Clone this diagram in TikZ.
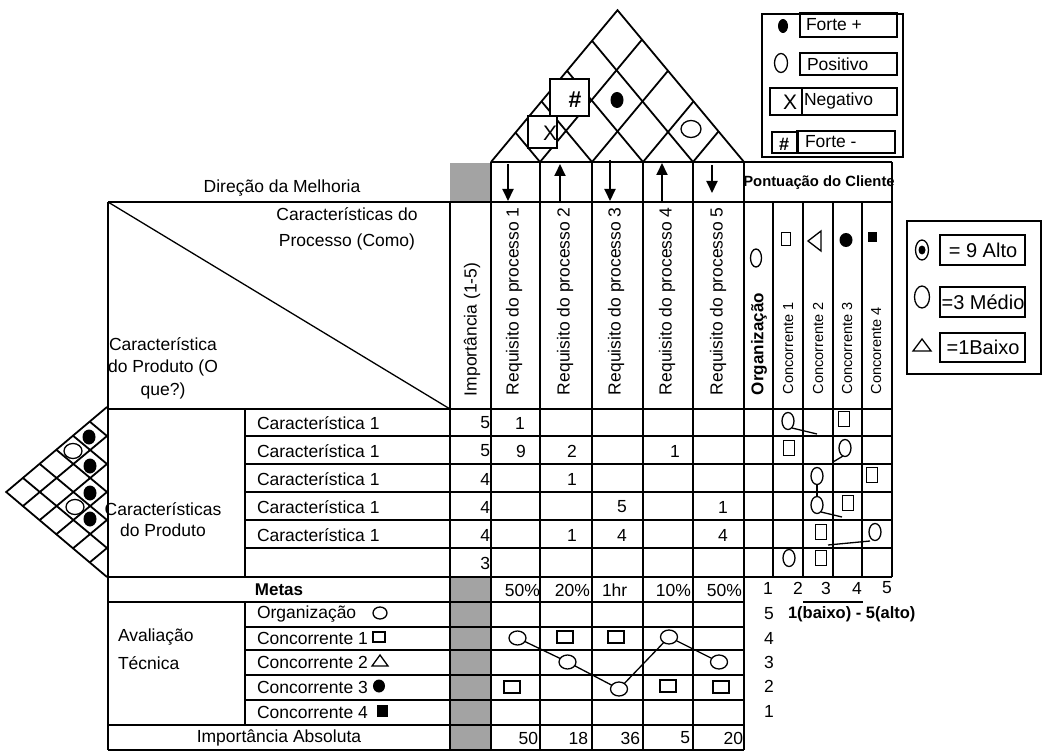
\documentclass[tikz,border=0pt]{standalone}
\usepackage{fontspec}
\setmainfont{Liberation Sans}
\usetikzlibrary{shapes.geometric,arrows.meta}
\newcommand{\fsz}[2]{\fontsize{#1}{#2}\selectfont}
\begin{document}
\begin{tikzpicture}[x=1pt,y=-1pt,
  every node/.style={inner sep=0pt,outer sep=0pt},
  lab/.style={font=\fsz{17.5}{22}},
  labbf/.style={font=\bfseries\fsz{17}{22}},
  sml/.style={font=\fsz{14.5}{17}},
  leg/.style={font=\fsz{20}{24}},
  rot/.style={rotate=90,anchor=west},
  rule/.style={line width=1.8pt},
  heavy/.style={line width=2.8pt},
  fine/.style={line width=1.3pt},
  shaded/.style={fill=black!36},
  ovl/.style={draw,ellipse,fine,fill=white,minimum width=12pt,minimum height=17pt},
  sqr/.style={draw,rectangle,fine,minimum width=11pt,minimum height=15pt},
  evo/.style={draw,ellipse,fine,fill=white,minimum width=17pt,minimum height=14pt},
  evs/.style={draw,rectangle,fine,minimum width=16pt,minimum height=12pt},
  dotf/.style={ellipse,fill=black},
  tip/.style={-{Triangle[width=11pt,length=12pt]},line width=1.9pt},
  legbox/.style={draw,fine,rectangle,fill=white}
]
% page
\path[fill=white] (0,0) rectangle (1044,754);

% ---------- shaded cells of the importance column ----------
\fill[shaded] (450,163) rectangle (490,201);
\fill[shaded] (451,578) rectangle (490,749);

% ---------- roof (correlation matrix) ----------
\draw[rule] (491,162) -- (617.5,10.2) -- (744,162);
\foreach \b in {540,592,643,693} {
  \draw[rule] (\b,162) -- ({(\b+744)/2},{162-0.6*(744-\b)});
  \draw[rule] (\b,162) -- ({(491+\b)/2},{162-0.6*(\b-491)});
}
\node[legbox,minimum width=29pt,minimum height=32pt] (rX) at (542.5,132) {};
\node[font=\fsz{21}{24}] (rXt) at (550,133) {X};
\node[legbox,minimum width=39pt,minimum height=37pt] (rH) at (569.5,97.5) {};
\node[font=\bfseries\fsz{23}{26}] (rHt) at (575,100) {\#};
\node[dotf,minimum width=13pt,minimum height=16pt] (rD) at (617,100) {};
\node[ovl,minimum width=20pt,minimum height=17pt] (rO) at (691,129) {};

% ---------- side correlation matrix ----------
\draw[rule] (107,407) -- (6.2,492) -- (107,577);
\foreach \r in {436,464,492,520,548} {
  \draw[rule] (107,\r) -- ({107-0.6*(\r-407)},{(407+\r)/2});
  \draw[rule] (107,\r) -- ({107-0.6*(577-\r)},{(\r+577)/2});
}
\node[dotf,minimum width=13pt,minimum height=15pt] (s12) at (89,437) {};
\node[ovl,minimum width=18pt,minimum height=15pt] (s13) at (73,451) {};
\node[dotf,minimum width=13pt,minimum height=15pt] (s23) at (90,466) {};
\node[dotf,minimum width=13pt,minimum height=15pt] (s34) at (90,493) {};
\node[ovl,minimum width=18pt,minimum height=15pt] (s35) at (75,507) {};
\node[dotf,minimum width=13pt,minimum height=15pt] (s45) at (90,519) {};

% ---------- table rules ----------
\draw[rule] (491,162) -- (892,162);
\draw[heavy] (108,202) -- (892,202);
\draw[heavy] (108,409) -- (892,409);
\foreach \y in {436,464,492,520,548} \draw[rule] (245,\y) -- (892,\y);
\draw[heavy] (108,577) -- (892,577);
\draw[rule] (108,602) -- (744,602);
\foreach \y in {627,650,675,700} \draw[rule] (245,\y) -- (744,\y);
\draw[heavy] (108,725) -- (744,725);
\draw[rule] (108,750) -- (744,750);

\draw[rule] (108,202) -- (108,750);
\draw[rule] (245,409) -- (245,577);
\draw[rule] (245,602) -- (245,725);
\draw[rule] (450,202) -- (450,750);
\draw[heavy] (491,162) -- (491,750);
\foreach \x in {540,592,643,693} \draw[rule] (\x,162) -- (\x,750);
\draw[heavy] (744,162) -- (744,750);
\foreach \x in {773,803,833,862} \draw[rule] (\x,202) -- (\x,577);
\draw[heavy] (892,162) -- (892,577);
\draw[fine] (108,202) -- (450,409);
\draw[rule] (803,602) -- (863,602);

% ---------- direction of improvement ----------
\coordinate (a1s) at (508,164); \coordinate (a1e) at (508,201);
\coordinate (a2s) at (560,202); \coordinate (a2e) at (560,164);
\coordinate (a3s) at (610,160); \coordinate (a3e) at (610,201);
\coordinate (a4s) at (662,202); \coordinate (a4e) at (662,163);
\coordinate (a5s) at (712,165); \coordinate (a5e) at (712,193);
\foreach \k in {1,...,5} \draw[tip] (a\k s) -- (a\k e);

% ---------- header texts ----------
\node[lab] (dir) at (282,188) {Direção da Melhoria};
\node[lab,align=center,font=\fsz{17.5}{26}] (como) at (347,229) {Características do\\Processo (Como)};
\node[lab,align=center,font=\fsz{17.5}{22.5}] (oque) at (163,368) {Característica\\do Produto (O\\que?)};
\node[lab,rot] (imp) at (472,396) {Importância (1-5)};
\node[lab,rot] (rq1) at (514,395) {Requisito do processo 1};
\node[lab,rot] (rq2) at (565,395) {Requisito do processo 2};
\node[lab,rot] (rq3) at (616,395) {Requisito do processo 3};
\node[lab,rot] (rq4) at (667,395) {Requisito do processo 4};
\node[lab,rot] (rq5) at (718,395) {Requisito do processo 5};

\node[font=\bfseries\fsz{14.8}{17}] (pont) at (819,183) {Pontuação do Cliente};
\node[labbf,rot] (hOrgT) at (759,395) {Organização};
\node[sml,rot] (hC1T) at (788,394) {Concorrente 1};
\node[sml,rot] (hC2T) at (818,394) {Concorrente 2};
\node[sml,rot] (hC3T) at (847,394) {Concorrente 3};
\node[sml,rot] (hC4T) at (876,394) {Concorente 4};
\node[ovl,minimum width=11pt,minimum height=18pt] (hOrg) at (756,258) {};
\node[sqr,minimum width=9pt,minimum height=13pt] (hC1) at (786,239) {};
\draw[fine] (808,241) -- (821,231) -- (821,251) -- cycle;
\node[dotf,minimum width=13pt,minimum height=14pt] (hC3) at (846,240) {};
\node[fill=black,minimum width=9pt,minimum height=9pt] (hC4) at (872,237) {};

% ---------- product characteristics ----------
\node[lab,align=center,font=\fsz{17.5}{21}] (prod) at (163,520) {Características\\do Produto};
\foreach \y/\n in {423/1,451/2,479/3,507/4,535/5}
  \node[lab,anchor=west] (ch\n) at (257,\y) {Característica 1};
\foreach \y/\v/\n in {423/5/1,451/5/2,479/4/3,507/4/4,535/4/5,563/3/6}
  \node[lab,anchor=east] (iv\n) at (490,\y) {\v};

% relationship values
\node[lab] (m11) at (520,423) {1};
\node[lab] (m21) at (521,451) {9};
\node[lab] (m22) at (572,451) {2};
\node[lab] (m24) at (675,451) {1};
\node[lab] (m32) at (572,479) {1};
\node[lab] (m43) at (622,507) {5};
\node[lab] (m45) at (723,507) {1};
\node[lab] (m52) at (572,535) {1};
\node[lab] (m53) at (622,535) {4};
\node[lab] (m55) at (723,535) {4};

% customer scoring marks
\node[ovl] (p1o) at (788,421) {};
\node[sqr] (p1s) at (844,419) {};
\node[sqr] (p2s) at (789,448) {};
\node[ovl] (p2o) at (845,448) {};
\node[ovl] (p3o) at (817,476) {};
\node[sqr] (p3s) at (872,475) {};
\node[ovl] (p4o) at (817,505) {};
\node[sqr] (p4s) at (848,503) {};
\node[sqr] (p5s) at (821,532) {};
\node[ovl] (p5o) at (875,532) {};
\node[ovl] (p6o) at (789,558) {};
\node[sqr] (p6s) at (821,558) {};
\draw[fine] (792,428) -- (817,434);
\draw[fine] (843,456) -- (833,462);
\draw[fine] (817,484) -- (817,497);
\draw[fine] (821,512) -- (842,517);
\draw[fine] (828,545) -- (870,541);

% ---------- goals ----------
\node[labbf] (metas) at (279,590) {Metas};
\node[lab,anchor=east] (g1) at (540,590) {50\%};
\node[lab,anchor=east] (g2) at (590,590) {20\%};
\node[lab,anchor=west] (g3) at (602,590) {1hr};
\node[lab,anchor=east] (g4) at (691,590) {10\%};
\node[lab,anchor=east] (g5) at (742,590) {50\%};
\foreach \x/\v in {768/1,798/2,826/3,857/4,887/5}
  \node[lab] (sc\v) at (\x,588) {\v};

% ---------- technical evaluation ----------
\node[lab,anchor=west] (aval) at (118,637) {Avaliação};
\node[lab,anchor=west] (tecn) at (118,663) {Técnica};
\node[lab,anchor=west] (eOrg) at (257,614) {Organização};
\node[lab,anchor=west] (eC1) at (257,638) {Concorrente 1};
\node[lab,anchor=west] (eC2) at (257,662) {Concorrente 2};
\node[lab,anchor=west] (eC3) at (257,687) {Concorrente 3};
\node[lab,anchor=west] (eC4) at (257,712) {Concorrente 4};
\node[draw,ellipse,fine,minimum width=14pt,minimum height=12pt] (kOrg) at (380,613) {};
\node[draw,rectangle,fine,minimum width=12pt,minimum height=10pt] (kC1) at (379,637) {};
\draw[fine] (372,666) -- (388,666) -- (380,655) -- cycle;
\node[dotf,minimum width=12pt,minimum height=13pt] (kC3) at (379,686) {};
\node[fill=black,minimum width=11pt,minimum height=12pt] (kC4) at (382,711) {};

\foreach \y/\v in {614/5,638/4,662/3,686/2,711/1}
  \node[lab] (lv\v) at (769,\y) {\v};
\node[font=\bfseries\fsz{16.5}{20},anchor=west] (scale) at (788,614) {1(baixo) - 5(alto)};

\node[evo] (e1) at (517.5,638) {};
\node[evo] (e2) at (567.5,662) {};
\node[evo] (e3) at (619,689) {};
\node[evo] (e4) at (669,637) {};
\node[evo] (e5) at (719,662) {};
\draw[fine] (e1) -- (e2) -- (e3) -- (e4) -- (e5);
\node[evs] (q2a) at (565,637) {};
\node[evs] (q3a) at (616,637) {};
\node[evs] (q1b) at (512,687) {};
\node[evs] (q4b) at (668,686) {};
\node[evs] (q5b) at (721,687) {};

% ---------- absolute importance ----------
\node[lab] (absT) at (279,738) {Importância Absoluta};
\node[lab,anchor=east] (ab1) at (538,738) {50};
\node[lab,anchor=east] (ab2) at (588,738) {18};
\node[lab,anchor=east] (ab3) at (640,738) {36};
\node[lab,anchor=east] (ab4) at (690,738) {5};
\node[lab,anchor=east] (ab5) at (743,738) {20};

% ---------- legend: correlations ----------
\draw[fine] (762,14) rectangle (903,157);
\node[dotf,minimum width=10pt,minimum height=14pt] (lgD) at (783,26) {};
\draw[fine] (800,13) rectangle (897,37);
\node[lab,anchor=west] (lgDt) at (806,25) {Forte +};
\node[ovl,minimum width=13pt,minimum height=19pt] (lgO) at (781,63) {};
\draw[fine] (800,53) rectangle (897,75);
\node[lab,anchor=west] (lgOt) at (807,64) {Positivo};
\draw[fine] (770,88) rectangle (802,115);
\node[font=\fsz{21}{24}] (lgX) at (790,102) {X};
\draw[fine] (802,88) rectangle (897,115);
\node[lab,anchor=west] (lgXt) at (804,101) {Negativo};
\draw[fine] (772,132) rectangle (798,153);
\node[font=\bfseries\fsz{18}{20}] (lgH) at (784,144) {\#};
\draw[fine] (797,131) rectangle (895,153);
\node[lab,anchor=west] (lgHt) at (805,142) {Forte -};

% ---------- legend: relationship weights ----------
\draw[fine] (907,221) rectangle (1041,374);
\node[draw,ellipse,fine,minimum width=13pt,minimum height=20pt] (lw9) at (922,250) {};
\node[dotf,minimum width=7pt,minimum height=9pt] (lw9d) at (922,250) {};
\draw[fine] (940,235) rectangle (1025,265);
\node[leg] (lw9t) at (983,250) {= 9 Alto};
\node[draw,ellipse,fine,minimum width=15pt,minimum height=22pt] (lw3) at (922,297) {};
\draw[fine] (940,287) rectangle (1025,317);
\node[leg] (lw3t) at (983,302) {=3 Médio};
\draw[fine] (913,351) -- (931,351) -- (922,339) -- cycle;
\draw[fine] (940,333) rectangle (1025,362);
\node[leg] (lw1t) at (983,347) {=1Baixo};
\end{tikzpicture}
\end{document}
